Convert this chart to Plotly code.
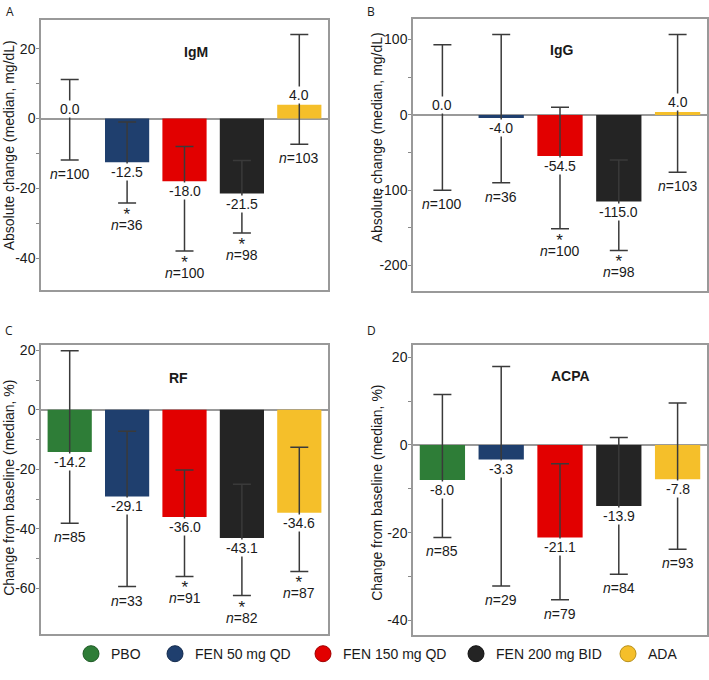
import plotly.graph_objects as go

W, H = 709, 680

groups = ["PBO", "FEN 50 mg QD", "FEN 150 mg QD", "FEN 200 mg BID", "ADA"]
colors = ["#2E7D37", "#1F3F6E", "#E20000", "#242424", "#F5BF2A"]
edge_colors = ["#1E5A25", "#142B4D", "#A00000", "#111111", "#B8901A"]

# Panel A: IgM (absolute change, mg/dL)
igm_median = [0.0, -12.5, -18.0, -21.5, 4.0]
igm_upper = [11.2, -1.0, -8.0, -12.0, 24.1]
igm_lower = [-11.9, -24.2, -38.0, -32.8, -7.4]
igm_n = [100, 36, 100, 98, 103]
igm_sig = [False, True, True, True, False]

# Panel B: IgG (absolute change, mg/dL)
igg_median = [0.0, -4.0, -54.5, -115.0, 4.0]
igg_upper = [93.0, 106.6, 10.0, -60.0, 106.6]
igg_lower = [-100.0, -90.0, -151.0, -180.0, -76.0]
igg_n = [100, 36, 100, 98, 103]
igg_sig = [False, False, True, True, False]

# Panel C: RF (% change from baseline)
rf_median = [-14.2, -29.1, -36.0, -43.1, -34.6]
rf_upper = [19.8, -7.2, -20.2, -25.0, -12.6]
rf_lower = [-38.1, -59.4, -56.0, -62.4, -54.3]
rf_n = [85, 33, 91, 82, 87]
rf_sig = [False, False, True, True, True]

# Panel D: ACPA (% change from baseline)
acpa_median = [-8.0, -3.3, -21.1, -13.9, -7.8]
acpa_upper = [11.5, 17.9, -4.3, 1.7, 9.6]
acpa_lower = [-21.1, -32.2, -35.3, -29.5, -23.8]
acpa_n = [85, 29, 79, 84, 93]
acpa_sig = [False, False, False, False, False]

# tick values / labels
igm_ticks = [-40, -30, -20, -10, 0, 10, 20]
igm_ticktext = ["-40", "", "-20", "", "0", "", "20"]
igg_ticks = [-200, -150, -100, -50, 0, 50, 100]
igg_ticktext = ["-200", "", "-100", "", "0", "", "100"]
rf_ticks = [-60, -50, -40, -30, -20, -10, 0, 10, 20]
rf_ticktext = ["-60", "", "-40", "", "-20", "", "0", "", "20"]
acpa_ticks = [-40, -30, -20, -10, 0, 10, 20]
acpa_ticktext = ["-40", "", "-20", "", "0", "", "20"]

panel_titles = ["IgM", "IgG", "RF", "ACPA"]
panel_letters = ["A", "B", "C", "D"]
ytitles = ["Absolute change (median, mg/dL)", "Absolute change (median, mg/dL)",
           "Change from baseline (median, %)", "Change from baseline (median, %)"]

FONT = "Liberation Sans, Arial, sans-serif"


def px(x):
    return x / W


def py(y):
    return 1 - y / H


panels = [
    dict(med=igm_median, up=igm_upper, lo=igm_lower, n=igm_n, sig=igm_sig,
         tv=igm_ticks, tt=igm_ticktext, rng=[-49.1, 28.3],
         box=(41, 328, 17, 288), title_xy=(196, 49), ytitle_xy=(9, 143), letter_xy=(10, 9)),
    dict(med=igg_median, up=igg_upper, lo=igg_lower, n=igg_n, sig=igg_sig,
         tv=igg_ticks, tt=igg_ticktext, rng=[-233.4, 127.4],
         box=(413, 707, 16, 289), title_xy=(561, 47), ytitle_xy=(377, 135), letter_xy=(371, 9)),
    dict(med=rf_median, up=rf_upper, lo=rf_lower, n=rf_n, sig=rf_sig,
         tv=rf_ticks, tt=rf_ticktext, rng=[-75.4, 21.6],
         box=(41, 328, 344, 634), title_xy=(178, 377), ytitle_xy=(9, 487), letter_xy=(9, 329)),
    dict(med=acpa_median, up=acpa_upper, lo=acpa_lower, n=acpa_n, sig=acpa_sig,
         tv=acpa_ticks, tt=acpa_ticktext, rng=[-43.4, 22.7],
         box=(413, 707, 344, 635), title_xy=(570, 375), ytitle_xy=(377, 492), letter_xy=(371, 329)),
]

fig = go.Figure()
annotations = []
layout_axes = {}

for i, p in enumerate(panels):
    k = "" if i == 0 else str(i + 1)
    xa, ya = "x" + k, "y" + k
    x0, x1, y0, y1 = p["box"]
    fig.add_trace(go.Bar(
        x=list(range(5)), y=p["med"], xaxis=xa, yaxis=ya,
        marker=dict(color=colors, line=dict(width=0)),
        width=0.77, showlegend=False, hoverinfo="skip",
        error_y=dict(type="data", symmetric=False,
                     array=[u - m for u, m in zip(p["up"], p["med"])],
                     arrayminus=[m - l for m, l in zip(p["med"], p["lo"])],
                     color="#3a3a3a", thickness=1.5, width=9),
    ))
    layout_axes["xaxis" + k] = dict(
        domain=[px(x0), px(x1)], range=[-0.5, 4.5], anchor=ya,
        showticklabels=False, ticks="", showgrid=False, zeroline=False,
        showline=True, linecolor="#999999", linewidth=1.5, mirror=True, fixedrange=True)
    layout_axes["yaxis" + k] = dict(
        domain=[py(y1), py(y0)], range=p["rng"], anchor=xa,
        tickmode="array", tickvals=p["tv"], ticktext=p["tt"],
        ticks="outside", ticklen=3, tickcolor="#888888", tickwidth=1,
        ticklabelstandoff=-2,
        tickfont=dict(family=FONT, size=14, color="#1a1a1a"),
        showgrid=False, zeroline=True, zerolinecolor="#9a9a9a", zerolinewidth=2,
        showline=True, linecolor="#999999", linewidth=1.5, mirror=True, fixedrange=True)

    for j in range(5):
        m = p["med"][j]
        # value label
        annotations.append(dict(
            x=j, y=m, xref=xa, yref=ya, text=f"{m:.1f}", showarrow=False,
            font=dict(family=FONT, size=14, color="#1a1a1a"),
            yanchor="middle", yshift=(10 if m >= 0 else -10),
            bgcolor="white", borderpad=0))
        # significance star + n label
        lo = p["lo"][j]
        nlab = f"<i>n</i>={p['n'][j]}"
        if p["sig"][j]:
            annotations.append(dict(
                x=j, y=lo, xref=xa, yref=ya,
                text="<span style='font-size:17px'>*</span><br>"
                     f"<span style='font-size:14px'>{nlab}</span>",
                showarrow=False,
                font=dict(family=FONT, size=8, color="#1a1a1a"),
                yanchor="top", yshift=-1, borderpad=0))
        else:
            annotations.append(dict(
                x=j, y=lo, xref=xa, yref=ya, text=nlab, showarrow=False,
                font=dict(family=FONT, size=14, color="#1a1a1a"),
                yanchor="middle", yshift=-14))

    tx, ty = p["title_xy"]
    annotations.append(dict(x=px(tx), y=py(ty), xref="paper", yref="paper",
                            text=f"<b>{panel_titles[i]}</b>", showarrow=False,
                            xanchor="center", yanchor="middle",
                            font=dict(family=FONT, size=14, color="#1a1a1a")))
    ax_, ay_ = p["ytitle_xy"]
    annotations.append(dict(x=px(ax_), y=py(ay_), xref="paper", yref="paper",
                            text=ytitles[i], showarrow=False, textangle=-90,
                            xanchor="center", yanchor="middle",
                            font=dict(family=FONT, size=14, color="#1a1a1a")))
    lx, ly = p["letter_xy"]
    annotations.append(dict(x=px(lx), y=py(ly), xref="paper", yref="paper",
                            text=panel_letters[i], showarrow=False,
                            xanchor="center", yanchor="middle",
                            font=dict(family="Open Sans, sans-serif", size=12, color="#1a1a1a")))

# legend entries (circle markers), each in its own legend to place precisely
legend_centers = [90, 174, 322, 475, 627]
legends = {}
for j, g in enumerate(groups):
    lname = "legend" if j == 0 else f"legend{j + 1}"
    fig.add_trace(go.Scatter(
        x=[None], y=[None], mode="markers", name=g, legend=lname,
        marker=dict(symbol="circle", size=16, color=colors[j],
                    line=dict(color=edge_colors[j], width=1)),
        showlegend=True))
    legends[lname] = dict(x=px(legend_centers[j] - 19), y=py(654), xanchor="left",
                          yanchor="middle", orientation="h", bgcolor="rgba(0,0,0,0)",
                          font=dict(family=FONT, size=14, color="#1a1a1a"),
                          borderwidth=0)

fig.update_layout(
    width=W, height=H, margin=dict(l=0, r=0, t=0, b=0),
    paper_bgcolor="white", plot_bgcolor="white",
    annotations=annotations, bargap=0.23,
    **layout_axes, **legends,
)

fig.write_html("out.html", config={"displayModeBar": False},
               post_script="document.body.style.margin='0px';")
